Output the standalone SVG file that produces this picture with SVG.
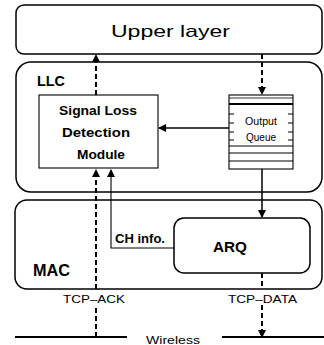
<svg xmlns="http://www.w3.org/2000/svg" width="324" height="345" viewBox="0 0 324 345">
  <defs>
    <marker id="arr" markerWidth="8" markerHeight="8" refX="7" refY="4" orient="auto" markerUnits="userSpaceOnUse">
      <path d="M0,0 L8,4 L0,8 Z" fill="#000"/>
    </marker>
  </defs>
  <style>
    .box { fill: #fff; stroke: #000; stroke-width: 1.5; }
    .thin { fill: none; stroke: #000; stroke-width: 1.1; }
    .solid { fill: none; stroke: #000; stroke-width: 1.5; }
    .dash { fill: none; stroke: #000; stroke-width: 2; stroke-dasharray: 5 3; }
    .wire { stroke: #000; stroke-width: 2.2; }
    .t { font-family: "Liberation Sans", Arial, sans-serif; fill: #000; }
    .b { font-weight: bold; }
  </style>

  <g id="upper-layer">
    <rect class="box" x="16" y="5" width="306" height="49" rx="8"/>
    <text class="t" x="111" y="37" font-size="16.5" textLength="119" lengthAdjust="spacingAndGlyphs">Upper layer</text>
  </g>

  <g id="llc">
    <rect class="box" x="16" y="62" width="306" height="130" rx="15"/>
    <text class="t b" x="37" y="86" font-size="15" textLength="28" lengthAdjust="spacingAndGlyphs">LLC</text>
  </g>

  <g id="mac">
    <rect class="box" x="15" y="200" width="307" height="89" rx="12"/>
    <text class="t b" x="33" y="276" font-size="16" textLength="37" lengthAdjust="spacingAndGlyphs">MAC</text>
  </g>

  <g id="signal-loss">
    <rect class="thin" x="39" y="95" width="119" height="73" fill="#fff"/>
    <text class="t b" x="59" y="115" font-size="12.5" textLength="78" lengthAdjust="spacingAndGlyphs">Signal Loss</text>
    <text class="t b" x="62" y="137" font-size="12.5" textLength="68" lengthAdjust="spacingAndGlyphs">Detection</text>
    <text class="t b" x="77" y="159" font-size="12.5" textLength="48" lengthAdjust="spacingAndGlyphs">Module</text>
  </g>

  <g id="output-queue">
    <rect class="thin" x="229" y="95" width="64" height="74" fill="#fff"/>
    <line x1="229" y1="98" x2="293" y2="98" stroke="#000" stroke-width="0.8"/>
    <line x1="229" y1="104" x2="293" y2="104" stroke="#000" stroke-width="2"/>
    <path class="thin" d="M229,114 h5 M229,123 h5 M229,132 h5 M229,140 h5 M288,114 h5 M288,123 h5 M288,132 h5 M288,140 h5"/>
    <line x1="229" y1="146" x2="293" y2="146" stroke="#000" stroke-width="1"/>
    <line x1="229" y1="153" x2="293" y2="153" stroke="#000" stroke-width="1"/>
    <line x1="229" y1="161" x2="293" y2="161" stroke="#000" stroke-width="1"/>
    <text class="t" x="245" y="125" font-size="10" textLength="32" lengthAdjust="spacingAndGlyphs">Output</text>
    <text class="t" x="246" y="141" font-size="10" textLength="30" lengthAdjust="spacingAndGlyphs">Queue</text>
  </g>

  <g id="arq">
    <rect class="box" x="174" y="218" width="136" height="55" rx="10"/>
    <text class="t b" x="213" y="252" font-size="14.5" textLength="34" lengthAdjust="spacingAndGlyphs">ARQ</text>
  </g>

  <g id="wireless">
    <line class="wire" x1="15" y1="337" x2="127" y2="337"/>
    <line class="wire" x1="222" y1="337" x2="324" y2="337"/>
    <text class="t" x="146" y="344" font-size="11" textLength="54" lengthAdjust="spacingAndGlyphs">Wireless</text>
  </g>

  <g id="connectors">
    <!-- TCP-ACK path: wireless up to the detection module, then on to the upper layer -->
    <line class="dash" x1="96" y1="337" x2="96" y2="305"/>
    <line class="dash" x1="96" y1="289" x2="96" y2="170" marker-end="url(#arr)"/>
    <line class="dash" x1="96" y1="95" x2="96" y2="55" marker-end="url(#arr)"/>
    <!-- TCP-DATA path: upper layer into the queue, queue to ARQ, ARQ out to wireless -->
    <line class="dash" x1="262" y1="54" x2="262" y2="94" marker-end="url(#arr)"/>
    <line class="solid" x1="262" y1="169" x2="262" y2="217" marker-end="url(#arr)"/>
    <line class="dash" x1="262" y1="273" x2="262" y2="289"/>
    <line class="dash" x1="262" y1="305" x2="262" y2="337" marker-end="url(#arr)"/>
    <!-- queue state to the detection module -->
    <line class="solid" x1="229" y1="128" x2="159" y2="128" marker-end="url(#arr)"/>
    <!-- channel info from ARQ -->
    <polyline class="thin" points="174,248 111,248 111,170" marker-end="url(#arr)"/>
    <text class="t b" x="115" y="243" font-size="13" textLength="50" lengthAdjust="spacingAndGlyphs">CH info.</text>
    <text class="t" x="63" y="303" font-size="11.5" textLength="62" lengthAdjust="spacingAndGlyphs">TCP–ACK</text>
    <text class="t" x="228" y="303" font-size="11.5" textLength="69" lengthAdjust="spacingAndGlyphs">TCP–DATA</text>
  </g>
</svg>
